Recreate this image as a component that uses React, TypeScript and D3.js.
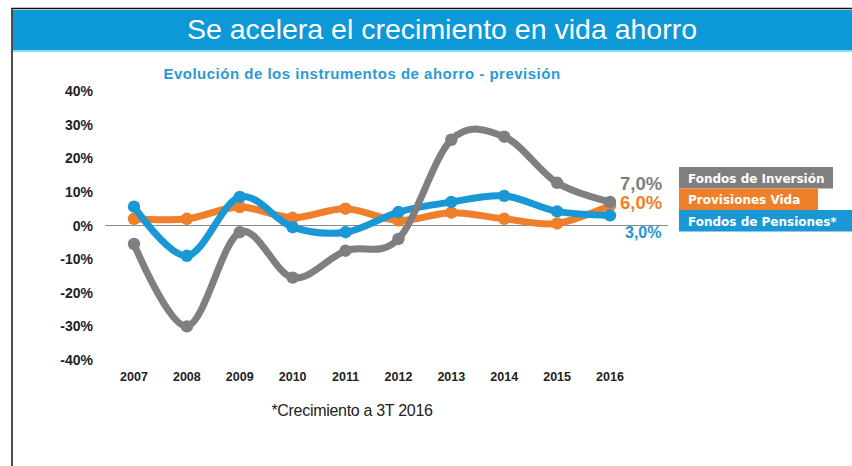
import React from "react";
import * as d3 from "d3";

const years = ["2007", "2008", "2009", "2010", "2011", "2012", "2013", "2014", "2015", "2016"];
const fondosInversion = [-5.5, -30, -2, -15.5, -7.5, -4, 25.5, 26.4, 12.7, 7.0];
const provisionesVida = [2, 2, 5.5, 2.3, 5, 1.5, 3.8, 2, 0.6, 6.0];
const fondosPensiones = [5.6, -9, 8.5, -0.5, -2, 4, 7, 8.8, 4.2, 3.0];
const yTicks = [40, 30, 20, 10, 0, -10, -20, -30, -40];
const seriesNames = ["Fondos de Inversión", "Provisiones Vida", "Fondos de Pensiones*"];
const endLabels = ["7,0%", "6,0%", "3,0%"];

const GREY = "#7f7f7f";
const ORANGE = "#ef7f2a";
const BLUE = "#1a98d5";

export default function App() {
  const x = d3.scalePoint<string>().domain(years).range([134, 610]);
  const y = d3.scaleLinear().domain([-40, 40]).range([360, 91]);
  const line = d3
    .line<number>()
    .x((_, i) => x(years[i]) as number)
    .y((d) => y(d))
    .curve(d3.curveCardinal.tension(0));

  const series = [
    { name: seriesNames[1], data: provisionesVida, color: ORANGE },
    { name: seriesNames[2], data: fondosPensiones, color: BLUE },
    { name: seriesNames[0], data: fondosInversion, color: GREY },
  ];

  const legend = [
    { name: seriesNames[0], color: GREY, w: 154 },
    { name: seriesNames[1], color: ORANGE, w: 139 },
    { name: seriesNames[2], color: BLUE, w: 173 },
  ];

  const font = "Liberation Sans, Arial, sans-serif";

  return (
    <svg
      width={852}
      height={466}
      style={{ position: "absolute", left: 0, top: 0, background: "#fff" }}
    >
      {/* frame */}
      <rect x={12} y={8.5} width={850} height={470} fill="#fff" stroke="#111" strokeWidth={1.5} />
      <rect x={13} y={10} width={839} height={40} fill="#0d98d8" />
      <rect x={13} y={50} width={839} height={2} fill="#8fdcf2" />
      <text x={442} y={39} textAnchor="middle" fill="#fff" fontFamily={font} fontSize={28.5}>
        Se acelera el crecimiento en vida ahorro
      </text>

      <text
        x={362}
        y={79}
        textAnchor="middle"
        fill="#2b9ad6"
        fontFamily={font}
        fontWeight="bold"
        fontSize={15}
        letterSpacing={0.5}
      >
        Evolución de los instrumentos de ahorro - previsión
      </text>

      {/* y axis labels */}
      {yTicks.map((t) => (
        <text
          key={t}
          x={93}
          y={y(t) + 5}
          textAnchor="end"
          fill="#222"
          fontFamily={font}
          fontWeight="bold"
          fontSize={14}
        >
          {t}%
        </text>
      ))}

      {/* zero line */}
      <line x1={105} x2={668} y1={y(0)} y2={y(0)} stroke="#8a8a8a" strokeWidth={1.2} />

      {/* x labels */}
      {years.map((yr) => (
        <text
          key={yr}
          x={x(yr)}
          y={380.5}
          textAnchor="middle"
          fill="#222"
          fontFamily={font}
          fontWeight="bold"
          fontSize={12.5}
        >
          {yr}
        </text>
      ))}

      {/* series */}
      {series.map((s) => (
        <g key={s.name}>
          <path d={line(s.data) || ""} fill="none" stroke={s.color} strokeWidth={7} strokeLinejoin="round" />
          {s.data.map((v, i) => (
            <circle key={i} cx={x(years[i])} cy={y(v)} r={6.2} fill={s.color} />
          ))}
        </g>
      ))}

      {/* end labels */}
      <text x={620} y={190} fill={GREY} fontFamily={font} fontWeight="bold" fontSize={18.5}>
        {endLabels[0]}
      </text>
      <text x={620} y={209} fill={ORANGE} fontFamily={font} fontWeight="bold" fontSize={18.5}>
        {endLabels[1]}
      </text>
      <text x={625} y={237.5} fill={BLUE} fontFamily={font} fontWeight="bold" fontSize={16}>
        {endLabels[2]}
      </text>

      {/* legend */}
      {legend.map((l, i) => (
        <g key={l.name}>
          <rect x={679} y={167 + i * 21.5} width={l.w} height={21.5} fill={l.color} />
          <text
            x={688}
            y={182.5 + i * 21.5}
            fill="#fff"
            fontFamily="DejaVu Sans, Verdana, sans-serif"
            fontWeight="bold"
            fontSize={12}
          >
            {l.name}
          </text>
        </g>
      ))}

      <text x={352} y={416} textAnchor="middle" fill="#222" fontFamily={font} fontSize={16} letterSpacing={-0.3}>
        *Crecimiento a 3T 2016
      </text>
    </svg>
  );
}
